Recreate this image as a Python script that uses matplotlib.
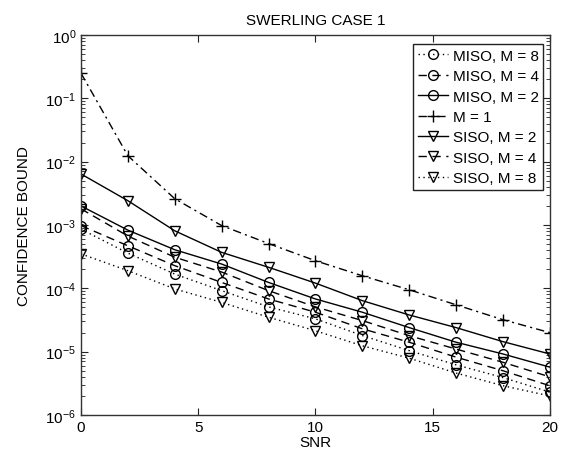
import numpy as np
import matplotlib.pyplot as plt

# Datos (SNR en dB, cota de confianza)
snr = [0, 2, 4, 6, 8, 10, 12, 14, 16, 18, 20]

miso_m8 = [8.6e-4, 3.6e-4, 1.68e-4, 9.2e-5, 5.1e-5, 3.3e-5, 1.8e-5, 1.04e-5, 6.2e-6, 3.9e-6, 2.3e-6]
miso_m4 = [9.8e-4, 4.7e-4, 2.28e-4, 1.24e-4, 6.8e-5, 4.2e-5, 2.3e-5, 1.41e-5, 8.2e-6, 5.0e-6, 2.9e-6]
miso_m2 = [2.0e-3, 8.3e-4, 4.07e-4, 2.42e-4, 1.24e-4, 6.8e-5, 4.2e-5, 2.4e-5, 1.41e-5, 9.2e-6, 5.7e-6]
m1 = [0.25, 0.0124, 2.6e-3, 9.8e-4, 5.1e-4, 2.73e-4, 1.58e-4, 9.5e-5, 5.5e-5, 3.2e-5, 2.0e-5]
siso_m2 = [6.4e-3, 2.42e-3, 8.1e-4, 3.7e-4, 2.15e-4, 1.21e-4, 6.4e-5, 3.8e-5, 2.4e-5, 1.44e-5, 9.2e-6]
siso_m4 = [1.8e-3, 6.7e-4, 3.1e-4, 1.81e-4, 9.2e-5, 5.1e-5, 3.1e-5, 1.79e-5, 1.1e-5, 6.8e-6, 4.0e-6]
siso_m8 = [3.5e-4, 1.9e-4, 9.8e-5, 6.0e-5, 3.5e-5, 2.14e-5, 1.24e-5, 7.9e-6, 4.6e-6, 2.9e-6, 2.0e-6]

plt.rcParams['font.family'] = ['Liberation Sans', 'DejaVu Sans']
plt.rcParams['font.size'] = 11

fig = plt.figure(figsize=(5.68, 4.56), dpi=100)
ax = fig.add_axes([0.1426, 0.0877, 0.8254, 0.8333])

estilo = dict(color='black', linewidth=1.0, markersize=7, markerfacecolor='none',
              markeredgewidth=1.0)
guion = (0, (6, 4))
punto = (0, (1, 2.5))
raya_punto = (0, (6, 3, 1.5, 3))

ax.semilogy(snr, miso_m8, linestyle=punto, marker='o', label='MISO, M = 8', **estilo)
ax.semilogy(snr, miso_m4, linestyle=guion, marker='o', label='MISO, M = 4', **estilo)
ax.semilogy(snr, miso_m2, linestyle='-', marker='o', label='MISO, M = 2', **estilo)
ax.semilogy(snr, m1, linestyle=raya_punto, marker='+', label='M = 1', color='black',
            linewidth=1.0, markersize=8, markeredgewidth=1.0)
ax.semilogy(snr, siso_m2, linestyle='-', marker='v', label='SISO, M = 2', **estilo)
ax.semilogy(snr, siso_m4, linestyle=guion, marker='v', label='SISO, M = 4', **estilo)
ax.semilogy(snr, siso_m8, linestyle=punto, marker='v', label='SISO, M = 8', **estilo)

ax.set_xlim(0, 20)
ax.set_ylim(1e-6, 1)
ax.set_xticks([0, 5, 10, 15, 20])
ax.tick_params(which='both', direction='in', top=True, right=True, colors='#222222',
               labelcolor='black')
ax.tick_params(which='major', length=5)
ax.tick_params(which='minor', length=3)
for s in ax.spines.values():
    s.set_color('#333333')
    s.set_linewidth(1.0)

ax.set_title('SWERLING CASE 1', fontsize=11, pad=8)
ax.set_xlabel('SNR', labelpad=1)
ax.set_ylabel('CONFIDENCE BOUND', labelpad=10)

leg = ax.legend(loc='upper right', bbox_to_anchor=(0.993, 0.984), fancybox=False,
                edgecolor='#222222', framealpha=1, borderpad=0.3, labelspacing=0.42,
                handlelength=2.0, handletextpad=0.3, borderaxespad=0.2)
leg.get_frame().set_linewidth(1.0)

fig.savefig('out.png', dpi=100)
